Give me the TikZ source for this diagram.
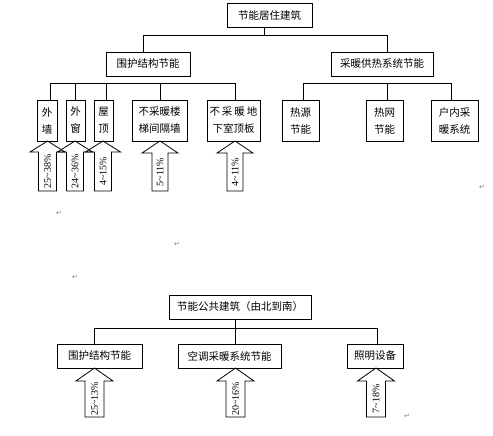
\documentclass[tikz,border=0pt]{standalone}
\usepackage{fontspec}
\setmainfont{Liberation Serif}
\newfontfamily\cjk{Noto Sans CJK SC}
\newfontfamily\dejavu{DejaVu Sans}
\newcommand\ArrowUp[8]{%
  \draw[arr] (#2-#5,#4) -- (#2-#5,#3+#7) -- (#2-#6,#3+#7) -- (#2,#3) -- (#2+#6,#3+#7) -- (#2+#5,#3+#7) -- (#2+#5,#4) -- cycle;
  \node[arrtext] (#1) at (#2,{(#3+#7+#4)/2}) {#8};}
\begin{document}
\begin{tikzpicture}[x=1pt,y=-1pt,
  box/.style={draw, line width=0.8pt, inner sep=0pt, align=center,
              font=\cjk\fontsize{10.5}{17}\selectfont},
  conn/.style={line width=0.8pt},
  arr/.style={line width=0.8pt},
  arrtext/.style={font=\fontsize{10}{10}\selectfont, inner sep=0pt, rotate=90},
  ret/.style={font=\dejavu\fontsize{7}{7}\selectfont, text=gray, inner sep=0pt}]
\useasboundingbox (0,0) rectangle (493,436);

% ---- residential tree ----
\node[box, minimum width=85pt, minimum height=24pt] (top) at (269.5,15) {节能居住建筑};
\node[box, minimum width=84pt, minimum height=24pt] (wh) at (148,64) {围护结构节能};
\node[box, minimum width=102pt, minimum height=24pt] (cn) at (382,64) {采暖供热系统节能};

\node[box, minimum width=20pt, minimum height=41pt] (wq) at (47,120.5) {外\\墙};
\node[box, minimum width=19pt, minimum height=41pt] (wc) at (75.5,120.5) {外\\窗};
\node[box, minimum width=19pt, minimum height=41pt] (wd) at (103.5,120.5) {屋\\顶};
\node[box, minimum width=55pt, minimum height=41pt] (lt) at (159.5,120.5) {不采暖楼\\梯间隔墙};
\node[box, minimum width=53pt, minimum height=41pt] (dx) at (233.5,120.5) {不\hspace{2pt}采\hspace{2pt}暖\hspace{2pt}地\\下室顶板};
\node[box, minimum width=37pt, minimum height=41pt] (ry) at (300.5,120.5) {热源\\节能};
\node[box, minimum width=37pt, minimum height=41pt] (rw) at (384.5,120.5) {热网\\节能};
\node[box, minimum width=47pt, minimum height=41pt] (hn) at (454.5,120.5) {户内采\\暖系统};

\draw[conn] (top.south -| 264,0) -- (264,35);
\draw[conn] (wh.north -| 143,0) -- (143,35) -- (387,35) -- (cn.north -| 387,0);

\draw[conn] (wq.north -| 50,0) -- (50,83) -- (235,83) -- (dx.north -| 235,0);
\draw[conn] (75,83) -- (wc.north -| 75,0);
\draw[conn] (106,83) -- (wd.north -| 106,0);
\draw[conn] (160,83) -- (lt.north -| 160,0);

\draw[conn] (ry.north -| 303,0) -- (303,83) -- (451,83) -- (hn.north -| 451,0);
\draw[conn] (387,83) -- (rw.north -| 387,0);

\ArrowUp{a1}{47.5}{141}{191}{9}{17.5}{11}{25\textasciitilde38\%}
\ArrowUp{a2}{75}{141}{191}{8.5}{17.5}{11}{24\textasciitilde36\%}
\ArrowUp{a3}{103}{141}{191}{8.5}{17.5}{11}{4\textasciitilde15\%}
\ArrowUp{a4}{160}{141}{191}{8}{18}{12}{5\textasciitilde11\%}
\ArrowUp{a5}{235}{141}{191}{8}{18}{12}{4\textasciitilde11\%}

% ---- public building tree ----
\node[box, minimum width=142pt, minimum height=24pt] (top2) at (240,307) {节能公共建筑（由北到南）};
\node[box, minimum width=85pt, minimum height=24pt] (b1) at (99.5,356) {围护结构节能};
\node[box, minimum width=103pt, minimum height=24pt] (b2) at (229.5,356) {空调采暖系统节能};
\node[box, minimum width=56pt, minimum height=24pt] (b3) at (375,356) {照明设备};

\draw[conn] (top2.south -| 235,0) -- (235,328);
\draw[conn] (b1.north -| 94,0) -- (94,328) -- (377,328) -- (b3.north -| 377,0);
\draw[conn] (235,328) -- (b2.north -| 235,0);

\ArrowUp{c1}{94.5}{368}{417}{9.5}{18.5}{13}{25\textasciitilde13\%}
\ArrowUp{c2}{235.5}{368}{417}{9.5}{18.5}{13}{20\textasciitilde16\%}
\ArrowUp{c3}{376}{368}{417}{9.5}{18.5}{13}{7\textasciitilde18\%}

% ---- paragraph marks ----
\node[ret] (r1) at (482,187) {↵};
\node[ret] (r2) at (59,213) {↵};
\node[ret] (r3) at (177,244) {↵};
\node[ret] (r4) at (75,277) {↵};
\node[ret] (r5) at (407,416) {↵};
\end{tikzpicture}
\end{document}
